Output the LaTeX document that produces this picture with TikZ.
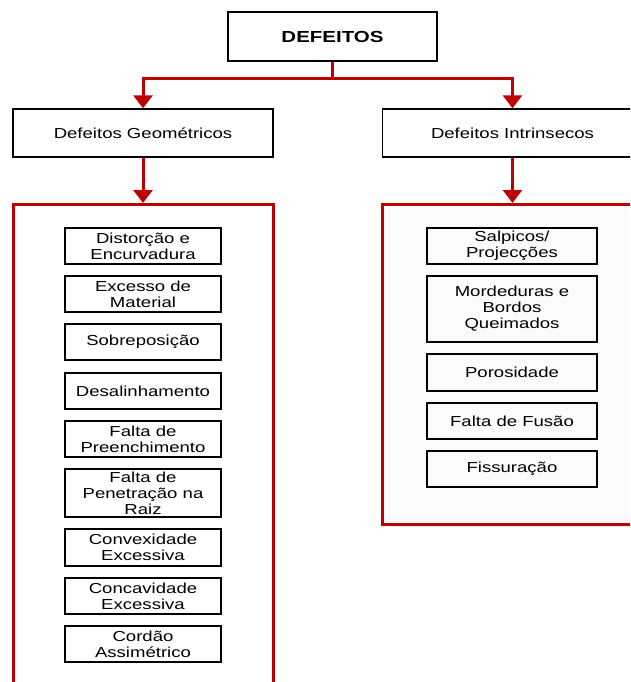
\documentclass[tikz,border=0pt]{standalone}
\usepackage{fontspec}
\setmainfont{Liberation Sans}[FakeStretch=1.28]
\usetikzlibrary{arrows.meta}

\definecolor{linkred}{HTML}{C00000}

\tikzset{
  caixa/.style={draw=black, line width=1.4pt, inner sep=0pt, align=center,
    font=\fontsize{14.5}{16}\selectfont},
  grupo/.style={draw=linkred, line width=3pt, inner sep=0pt},
  liga/.style={draw=linkred, line width=3pt, -{Triangle[width=19pt,length=13pt]}}
}

\begin{document}
\begin{tikzpicture}[x=1pt, y=-1pt]
\clip (0,0) rectangle (630,682);
\fill[white] (0,0) rectangle (630,682);

% topo e as duas familias de defeitos
\node (D) [caixa, minimum width=209pt, minimum height=49pt, font=\fontsize{16}{18}\selectfont\bfseries] at (332.5,36.5) {DEFEITOS};
\node (G) [caixa, minimum width=260pt, minimum height=48pt] at (143,133) {Defeitos Geométricos};
\node (I) [caixa, minimum width=260pt, minimum height=48pt] at (512.5,133) {Defeitos Intrinsecos};

% molduras vermelhas
\node (GG) [grupo, minimum width=260pt, minimum height=560pt, anchor=north] at (143,203) {};
\draw [fill=black!8, draw=none] (387,523) rectangle (650,527);
\node (II) [grupo, fill={rgb,255:red,249;green,251;blue,253}, minimum width=260pt, minimum height=320pt, anchor=north] at (512.5,203) {};

\draw [liga] (D.south) -- ++(0,17) -| (G.north);
\draw [liga] (D.south) -- ++(0,17) -| (I.north);
\draw [liga] (G.south) -- (GG.north);
\draw [liga] (I.south) -- (II.north);

% defeitos geometricos
\node (g1) [caixa, minimum width=156pt, minimum height=36pt] at (143,246) {Distorção e\\Encurvadura};
\node (g2) [caixa, minimum width=156pt, minimum height=36pt] at (143,294) {Excesso de\\Material};
\node (g3) [caixa, minimum width=156pt, minimum height=36pt] at (143,342) {Sobreposição};
\node (g4) [caixa, minimum width=156pt, minimum height=36pt] at (143,391) {Desalinhamento};
\node (g5) [caixa, minimum width=156pt, minimum height=36pt] at (143,439) {Falta de\\Preenchimento};
\node (g6) [caixa, minimum width=156pt, minimum height=48pt] at (143,493) {Falta de\\Penetração na\\Raiz};
\node (g7) [caixa, minimum width=156pt, minimum height=37pt] at (143,547.5) {Convexidade\\Excessiva};
\node (g8) [caixa, minimum width=156pt, minimum height=36pt] at (143,596) {Concavidade\\Excessiva};
\node (g9) [caixa, minimum width=156pt, minimum height=36pt] at (143,644) {Cordão\\Assimétrico};

% defeitos intrinsecos
\node (i1) [caixa, minimum width=170pt, minimum height=36pt] at (512,246) {Salpicos/\\Projecções};
\node (i2) [caixa, minimum width=170pt, minimum height=66pt] at (512,309) {Mordeduras e\\Bordos\\Queimados};
\node (i3) [caixa, minimum width=170pt, minimum height=37pt] at (512,372.5) {Porosidade};
\node (i4) [caixa, minimum width=170pt, minimum height=36pt] at (512,421) {Falta de Fusão};
\node (i5) [caixa, minimum width=170pt, minimum height=36pt] at (512,469) {Fissuração};
\end{tikzpicture}
\end{document}
